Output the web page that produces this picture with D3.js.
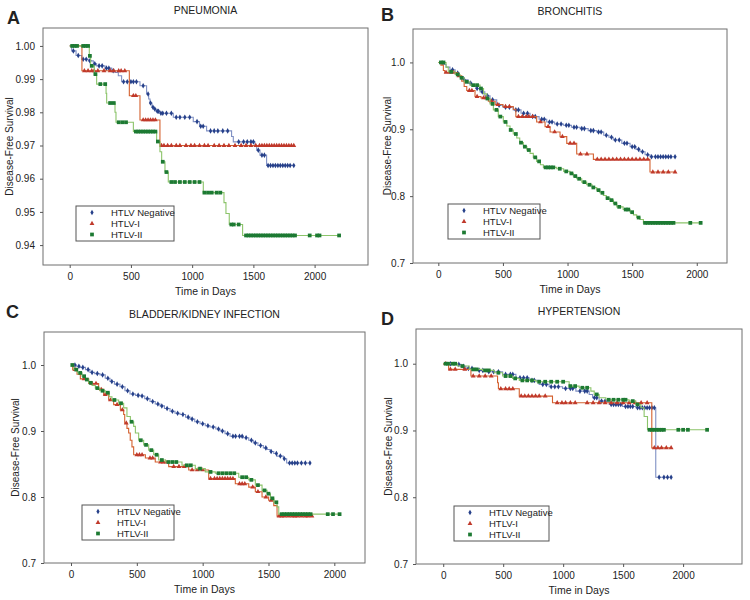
<!DOCTYPE html>
<html>
<head>
<meta charset="utf-8">
<script src="https://cdn.jsdelivr.net/npm/d3@7"></script>
<style>
  body { margin: 0; background: #fff; }
  text { font-family: Arial, "Liberation Sans", sans-serif; fill: #222; }
</style>
</head>
<body>
<div id="chart"></div>
<script>
// Kaplan-Meier disease-free survival by HTLV status, four outcomes
// steps = [day, survival after the drop]; censor = days with a censoring mark

const seriesNames = ['HTLV Negative', 'HTLV-I', 'HTLV-II'];
const xTickValues = [0, 500, 1000, 1500, 2000];
const yTicksA = [0.94, 0.95, 0.96, 0.97, 0.98, 0.99, 1.00];
const yTicksBCD = [0.7, 0.8, 0.9, 1.0];

// A - pneumonia
const pneuNegSteps = [[0,1],[16,0.9985],[52,0.9971],[98,0.996],[152,0.9955],[193,0.9946],[220,0.994],[288,0.9933],[343,0.9925],[370,0.992],[397,0.991],[424,0.9892],[574,0.988],[628,0.9855],[645,0.984],[656,0.9828],[672,0.9815],[688,0.981],[705,0.9803],[737,0.9797],[846,0.9785],[1009,0.9772],[1060,0.9758],[1118,0.9744],[1322,0.9727],[1336,0.9711],[1513,0.970],[1527,0.9686],[1554,0.9671],[1608,0.964]];
const pneuNegEnd = 1830;
const pneuNegCensor = [30,70,110,135,165,205,240,265,300,320,355,440,470,500,520,545,600,640,660,680,695,715,725,745,760,790,830,870,900,940,980,1040,1070,1090,1150,1180,1210,1250,1290,1380,1420,1450,1480,1500,1540,1570,1590,1620,1640,1660,1680,1700,1720,1740,1760,1780,1800,1830];
const pneuH1Steps = [[0,1],[100,0.9925],[487,0.985],[574,0.9777],[737,0.970]];
const pneuH1End = 1830;
const pneuH1Censor = [120,150,180,200,230,280,330,360,400,420,450,520,540,600,620,640,660,680,700,750,770,800,830,870,900,950,990,1020,1060,1100,1130,1180,1220,1260,1300,1350,1400,1440,1480,1520,1550,1570,1590,1610,1630,1650,1670,1690,1710,1730,1750,1770,1790,1810,1830];
const pneuH2Steps = [[0,1],[160,0.997],[171,0.994],[201,0.9915],[220,0.9885],[297,0.9857],[302,0.9828],[370,0.980],[378,0.977],[520,0.9742],[710,0.9712],[737,0.9681],[751,0.9651],[778,0.962],[805,0.959],[1091,0.9558],[1260,0.9528],[1276,0.9495],[1303,0.9462],[1412,0.9429]];
const pneuH2End = 2200;
const pneuH2Censor = [20,40,60,110,130,150,165,180,210,250,290,330,360,400,430,460,540,560,580,600,620,640,660,680,700,720,760,790,830,860,900,940,980,1020,1060,1100,1130,1160,1200,1230,1320,1340,1380,1440,1460,1480,1500,1520,1540,1560,1580,1600,1620,1640,1660,1680,1700,1720,1740,1760,1780,1800,1820,1840,1960,2020,2040,2200];

// B - bronchitis
const bronNegSteps = [[0,1],[30,0.997],[60,0.993],[90,0.989],[130,0.984],[160,0.979],[194,0.974],[230,0.969],[260,0.965],[290,0.961],[323,0.956],[360,0.950],[400,0.944],[452,0.936],[500,0.933],[580,0.929],[640,0.924],[710,0.919],[780,0.915],[839,0.911],[900,0.908],[968,0.906],[1030,0.903],[1097,0.901],[1160,0.898],[1226,0.896],[1280,0.891],[1320,0.888],[1354,0.884],[1420,0.879],[1484,0.874],[1530,0.870],[1561,0.8665],[1600,0.862],[1638,0.859]];
const bronNegEnd = 1832;
const bronNegCensor = [110,150,200,250,300,340,380,420,470,520,550,600,620,660,690,730,750,800,820,860,880,920,950,990,1010,1050,1070,1110,1130,1180,1200,1240,1260,1300,1340,1370,1400,1440,1460,1500,1520,1550,1580,1620,1650,1680,1700,1720,1740,1760,1780,1800,1832];
const bronH1Steps = [[0,1],[20,0.996],[39,0.988],[50,0.985],[150,0.980],[181,0.972],[200,0.964],[220,0.958],[284,0.949],[330,0.947],[387,0.942],[440,0.937],[500,0.934],[580,0.930],[600,0.919],[761,0.911],[826,0.904],[865,0.896],[942,0.889],[994,0.879],[1071,0.863],[1200,0.855],[1638,0.836]];
const bronH1End = 1832;
const bronH1Censor = [60,90,120,160,240,260,300,350,370,410,460,520,550,620,650,680,700,730,790,850,900,960,1020,1050,1100,1150,1230,1260,1290,1320,1350,1380,1410,1440,1470,1500,1530,1560,1590,1620,1660,1700,1740,1780,1832];
const bronH2Steps = [[0,1],[60,0.993],[77,0.986],[130,0.982],[168,0.977],[200,0.971],[245,0.966],[323,0.961],[350,0.953],[375,0.946],[400,0.938],[426,0.929],[464,0.919],[503,0.911],[530,0.905],[555,0.899],[580,0.893],[607,0.887],[630,0.880],[658,0.874],[685,0.869],[710,0.864],[735,0.858],[761,0.852],[790,0.847],[813,0.843],[916,0.841],[970,0.837],[1019,0.834],[1045,0.830],[1071,0.826],[1110,0.821],[1148,0.817],[1190,0.813],[1226,0.809],[1250,0.805],[1277,0.801],[1300,0.797],[1329,0.794],[1355,0.789],[1381,0.784],[1430,0.780],[1484,0.776],[1510,0.772],[1535,0.768],[1560,0.765],[1587,0.760]];
const bronH2End = 2030;
const bronH2Censor = [20,40,100,150,180,220,270,300,330,380,420,450,480,520,560,600,640,670,700,750,780,830,850,870,890,940,990,1030,1060,1090,1130,1170,1200,1240,1270,1310,1340,1370,1400,1450,1470,1500,1550,1600,1620,1640,1660,1680,1700,1720,1740,1760,1780,1800,1820,1950,2030];

// C - bladder/kidney infection
const bladNegSteps = [[0,1],[40,0.998],[68,0.9964],[110,0.993],[144,0.9888],[180,0.987],[220,0.985],[260,0.980],[296,0.975],[330,0.971],[372,0.967],[410,0.961],[448,0.956],[490,0.954],[524,0.953],[560,0.949],[600,0.9446],[640,0.941],[676,0.938],[710,0.934],[752,0.930],[790,0.927],[828,0.925],[870,0.921],[904,0.918],[940,0.914],[980,0.911],[1020,0.908],[1056,0.906],[1100,0.903],[1132,0.900],[1170,0.896],[1208,0.892],[1309,0.8897],[1350,0.886],[1385,0.882],[1420,0.878],[1461,0.8744],[1490,0.872],[1512,0.869],[1540,0.866],[1562,0.862],[1613,0.858],[1638,0.8515]];
const bladNegEnd = 1815;
const bladNegCensor = [30,60,90,130,160,200,240,280,310,350,390,430,470,510,540,580,620,660,690,730,770,810,850,890,920,960,1000,1040,1080,1120,1150,1190,1230,1250,1280,1300,1330,1370,1400,1440,1480,1520,1560,1590,1620,1660,1680,1700,1720,1750,1780,1815];
const bladH1Steps = [[0,1],[13,0.993],[46,0.986],[71,0.979],[134,0.972],[210,0.963],[248,0.955],[286,0.947],[324,0.940],[375,0.932],[400,0.925],[408,0.912],[425,0.904],[438,0.897],[450,0.886],[463,0.876],[476,0.864],[565,0.859],[640,0.853],[742,0.846],[894,0.841],[1046,0.828],[1248,0.820],[1350,0.815],[1400,0.808],[1451,0.800],[1501,0.795],[1540,0.787],[1565,0.771]];
const bladH1End = 1830;
const bladH1Censor = [30,100,160,190,230,260,300,350,390,420,500,520,540,600,620,680,700,720,780,820,860,920,960,1000,1060,1090,1110,1130,1150,1170,1190,1210,1230,1280,1300,1320,1380,1420,1480,1520,1580,1600,1620,1650,1680,1700,1720,1750,1780,1800,1830];
const bladH2Steps = [[0,1],[21,0.993],[50,0.988],[84,0.983],[110,0.978],[134,0.973],[160,0.969],[185,0.965],[220,0.961],[261,0.958],[290,0.952],[311,0.947],[362,0.942],[400,0.935],[425,0.922],[451,0.914],[476,0.907],[489,0.897],[514,0.886],[552,0.879],[590,0.871],[628,0.864],[666,0.856],[717,0.853],[843,0.848],[944,0.843],[1020,0.838],[1096,0.836],[1274,0.830],[1350,0.826],[1400,0.818],[1451,0.810],[1489,0.805],[1515,0.798],[1540,0.792],[1565,0.785],[1578,0.774]];
const bladH2End = 2040;
const bladH2Censor = [10,40,70,100,120,150,200,240,280,330,380,460,530,570,610,650,690,740,770,800,880,910,980,1060,1120,1150,1180,1210,1240,1300,1330,1370,1420,1470,1500,1530,1560,1600,1620,1640,1660,1680,1700,1720,1740,1760,1780,1800,1820,1950,1990,2040];

// D - hypertension
const hypNegSteps = [[0,1],[106,0.999],[148,0.996],[189,0.993],[272,0.990],[356,0.988],[495,0.984],[606,0.979],[717,0.975],[800,0.969],[883,0.9655],[995,0.963],[1106,0.959],[1217,0.954],[1245,0.949],[1300,0.944],[1384,0.939],[1495,0.936],[1606,0.934],[1772,0.830]];
const hypNegEnd = 1900;
const hypNegCensor = [60,130,170,210,240,300,330,380,420,460,520,560,580,640,670,700,740,760,830,860,900,930,960,1020,1060,1080,1140,1180,1200,1260,1280,1320,1350,1400,1420,1440,1460,1480,1520,1540,1560,1580,1620,1640,1660,1680,1700,1720,1740,1760,1800,1840,1870,1900];
const hypH1Steps = [[0,1],[45,0.9915],[231,0.9815],[453,0.9715],[460,0.9625],[634,0.9515],[911,0.9415],[1739,0.874]];
const hypH1End = 1900;
const hypH1Censor = [20,60,100,180,250,300,350,400,480,520,550,580,650,680,710,740,770,800,850,950,990,1020,1060,1100,1200,1250,1300,1350,1400,1450,1500,1550,1600,1650,1700,1760,1790,1820,1860,1900];
const hypH2Steps = [[0,1],[120,0.9965],[217,0.9915],[328,0.990],[425,0.9865],[495,0.9815],[578,0.978],[634,0.975],[773,0.973],[1050,0.9665],[1134,0.964],[1231,0.959],[1259,0.954],[1300,0.949],[1356,0.946],[1550,0.944],[1606,0.939],[1648,0.934],[1675,0.921],[1703,0.901]];
const hypH2End = 2200;
const hypH2Censor = [20,40,80,100,160,250,280,350,380,460,520,560,600,660,700,740,800,850,900,950,1000,1060,1100,1160,1200,1280,1380,1420,1460,1500,1520,1580,1620,1720,1740,1760,1780,1800,1820,1840,1960,2000,2040,2200];

// look of the three groups
const groupStyle = [
    { symbol: d3.symbolDiamond, size: 9, fill: '#26408a', line: '#7f90c4' },
    { symbol: d3.symbolTriangle, size: 10, fill: '#c0392b', line: '#d4612f' },
    { symbol: d3.symbolSquare, size: 14, fill: '#1d7a33', line: '#8cc46a' }
];

class SurvivalPanel {

    constructor(svg, cfg) {
        this.svg = svg;
        this.cfg = cfg;
        this.initVis();
    }

    initVis() {
        let vis = this;
        let c = vis.cfg;

        vis.g = vis.svg.append("g");

        vis.x = d3.scaleLinear().domain(c.xDomain).range([c.left, c.right]);
        vis.y = d3.scaleLinear().domain(c.yDomain).range([c.bottom, c.top]);

        // frame
        vis.g.append("rect")
            .attr("x", c.left).attr("y", c.top)
            .attr("width", c.right - c.left).attr("height", c.bottom - c.top)
            .attr("fill", "none").attr("stroke", "#6f6f6f").attr("stroke-width", 1);

        // axes
        let xAxis = d3.axisBottom(vis.x).tickValues(xTickValues).tickFormat(d3.format("d"))
            .tickSizeInner(3).tickSizeOuter(0).tickPadding(5);
        let yAxis = d3.axisLeft(vis.y).tickValues(c.yTicks).tickFormat(d3.format(c.yFormat))
            .tickSizeInner(3).tickSizeOuter(0).tickPadding(5);

        vis.g.append("g")
            .attr("transform", "translate(0," + c.bottom + ")")
            .call(xAxis)
            .call(g => g.select(".domain").remove());
        vis.g.append("g")
            .attr("transform", "translate(" + c.left + ",0)")
            .call(yAxis)
            .call(g => g.select(".domain").remove());
        vis.g.selectAll(".tick line").attr("stroke", "#555");
        vis.g.selectAll(".tick text").attr("font-size", "10px").attr("fill", "#222");

        // titles and labels
        vis.g.append("text")
            .attr("x", c.letterX).attr("y", c.letterY)
            .attr("font-size", "18px").attr("font-weight", "bold")
            .text(c.letter);
        vis.g.append("text")
            .attr("x", (c.left + c.right) / 2).attr("y", c.top - 14)
            .attr("text-anchor", "middle").attr("font-size", "10.5px")
            .text(c.title);
        vis.g.append("text")
            .attr("x", (c.left + c.right) / 2).attr("y", c.bottom + 30)
            .attr("text-anchor", "middle").attr("font-size", "10.5px")
            .text("Time in Days");
        vis.g.append("text")
            .attr("transform", "translate(" + c.yLabelX + "," + ((c.top + c.bottom) / 2) + ") rotate(-90)")
            .attr("text-anchor", "middle").attr("dy", "0.35em").attr("font-size", "10px")
            .text("Disease-Free Survival");

        vis.updateVis();
    }

    stepValue(steps, t) {
        let s = steps[0][1];
        steps.forEach(function(p) { if (p[0] <= t) s = p[1]; });
        return s;
    }

    updateVis() {
        let vis = this;
        let c = vis.cfg;

        let line = d3.line()
            .x(function(d) { return vis.x(d[0]); })
            .y(function(d) { return vis.y(d[1]); })
            .curve(d3.curveStepAfter);

        c.series.forEach(function(s, i) {
            let st = groupStyle[i];
            let pts = s.steps.concat([[s.end, s.steps[s.steps.length - 1][1]]]);

            vis.g.append("path")
                .datum(pts)
                .attr("fill", "none")
                .attr("stroke", st.line)
                .attr("stroke-width", 1.1)
                .attr("d", line);

            vis.g.selectAll(".mark" + i)
                .data(s.censor)
                .enter().append("path")
                .attr("class", "mark" + i)
                .attr("transform", function(t) {
                    return "translate(" + vis.x(t) + "," + vis.y(vis.stepValue(s.steps, t)) + ")";
                })
                .attr("d", d3.symbol().type(st.symbol).size(st.size))
                .attr("fill", st.fill);
        });

        // legend
        let lg = vis.g.append("g").attr("transform", "translate(" + c.legend[0] + "," + c.legend[1] + ")");
        lg.append("rect")
            .attr("width", c.legend[2]).attr("height", 35)
            .attr("fill", "#fff").attr("stroke", "#555").attr("stroke-width", 1);
        seriesNames.forEach(function(name, i) {
            let st = groupStyle[i];
            let cy = 6.5 + i * 11;
            lg.append("path")
                .attr("transform", "translate(16," + cy + ")")
                .attr("d", d3.symbol().type(st.symbol).size(st.size))
                .attr("fill", st.fill);
            lg.append("text")
                .attr("x", 35).attr("y", cy).attr("dy", "0.36em")
                .attr("font-size", "9.5px")
                .text(name);
        });
    }
}

let svg = d3.select("#chart").append("svg")
    .attr("width", 750).attr("height", 600);

new SurvivalPanel(svg, {
    letter: 'A', letterX: 7, letterY: 24, title: 'PNEUMONIA',
    left: 43, right: 368, top: 28, bottom: 265, yLabelX: 9,
    xDomain: [-218, 2436], yDomain: [0.934, 1.0054], yTicks: yTicksA, yFormat: '.2f',
    legend: [76, 206, 98],
    series: [
        { steps: pneuNegSteps, end: pneuNegEnd, censor: pneuNegCensor },
        { steps: pneuH1Steps, end: pneuH1End, censor: pneuH1Censor },
        { steps: pneuH2Steps, end: pneuH2End, censor: pneuH2Censor }
    ]
});

new SurvivalPanel(svg, {
    letter: 'B', letterX: 381, letterY: 21, title: 'BRONCHITIS',
    left: 413, right: 727, top: 29, bottom: 263, yLabelX: 387,
    xDomain: [-196, 2234], yDomain: [0.7, 1.05], yTicks: yTicksBCD, yFormat: '.1f',
    legend: [448, 204, 92],
    series: [
        { steps: bronNegSteps, end: bronNegEnd, censor: bronNegCensor },
        { steps: bronH1Steps, end: bronH1End, censor: bronH1Censor },
        { steps: bronH2Steps, end: bronH2End, censor: bronH2Censor }
    ]
});

new SurvivalPanel(svg, {
    letter: 'C', letterX: 6, letterY: 318, title: 'BLADDER/KIDNEY INFECTION',
    left: 44, right: 365, top: 332, bottom: 563, yLabelX: 15,
    xDomain: [-205, 2233], yDomain: [0.7, 1.05], yTicks: yTicksBCD, yFormat: '.1f',
    legend: [82, 505, 92],
    series: [
        { steps: bladNegSteps, end: bladNegEnd, censor: bladNegCensor },
        { steps: bladH1Steps, end: bladH1End, censor: bladH1Censor },
        { steps: bladH2Steps, end: bladH2End, censor: bladH2Censor }
    ]
});

new SurvivalPanel(svg, {
    letter: 'D', letterX: 381, letterY: 325, title: 'HYPERTENSION',
    left: 416, right: 742, top: 329, bottom: 564, yLabelX: 388,
    xDomain: [-227, 2491], yDomain: [0.7, 1.052], yTicks: yTicksBCD, yFormat: '.1f',
    legend: [454, 506, 95],
    series: [
        { steps: hypNegSteps, end: hypNegEnd, censor: hypNegCensor },
        { steps: hypH1Steps, end: hypH1End, censor: hypH1Censor },
        { steps: hypH2Steps, end: hypH2End, censor: hypH2Censor }
    ]
});
</script>
</body>
</html>
